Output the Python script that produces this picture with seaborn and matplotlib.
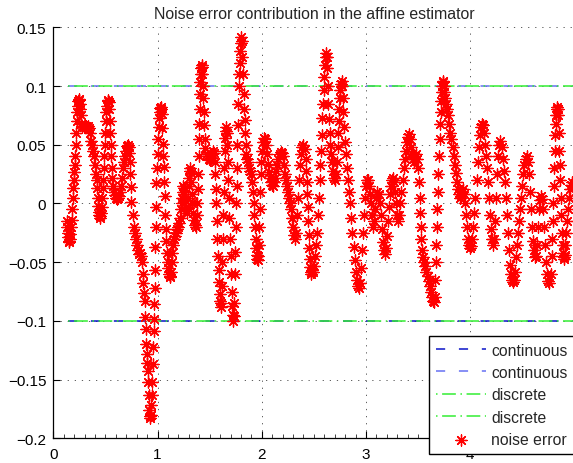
import numpy as np
import pandas as pd
import matplotlib
matplotlib.use("Agg")
import matplotlib.pyplot as plt
import seaborn as sns

# ---------------- data ----------------
title = "Noise error contribution in the affine estimator"
x_ticks = [0, 1, 2, 3, 4]
y_ticks = [-0.2, -0.15, -0.1, -0.05, 0, 0.05, 0.1, 0.15]
y_ticklabels = ["\u22120.2", "\u22120.15", "\u22120.1", "\u22120.05", "0", "0.05", "0.1", "0.15"]

bound_x = [0.14, 5.0]
cont_upper = [0.1, 0.1]
cont_lower = [-0.1, -0.1]
disc_upper = [0.1, 0.1]
disc_lower = [-0.1, -0.1]

legend_labels = ["continuous", "continuous", "discrete", "discrete", "noise error"]

noise_xy = [
    (0.13,-0.015),(0.135,-0.02),(0.14,-0.025),(0.145,-0.029),(0.15,-0.032),(0.155,-0.033),(0.16,-0.03),(0.165,-0.026),(0.17,-0.02),(0.175,-0.014),
    (0.18,-0.005),(0.185,0.005),(0.19,0.013),(0.195,0.02),(0.2,0.027),(0.205,0.033),(0.21,0.04),(0.215,0.05),(0.22,0.06),(0.225,0.07),(0.23,0.078),(0.235,0.083),(0.24,0.087),(0.245,0.089),(0.25,0.088),(0.255,0.085),(0.26,0.08),(0.265,0.075),
    (0.27,0.068),(0.28,0.066),(0.29,0.065),(0.3,0.066),(0.31,0.066),(0.32,0.065),(0.33,0.066),(0.34,0.064),(0.35,0.06),
    (0.36,0.053),(0.37,0.05),(0.38,0.045),(0.39,0.04),(0.4,0.033),(0.41,0.025),(0.415,0.02),(0.42,0.013),(0.425,0.005),(0.43,-0.002),(0.435,-0.007),(0.44,-0.01),(0.445,-0.012),(0.45,-0.011),(0.455,-0.008),
    (0.465,-0.003),(0.47,0.005),(0.475,0.013),(0.48,0.02),(0.485,0.03),(0.49,0.04),(0.495,0.05),(0.5,0.06),(0.505,0.07),(0.51,0.078),(0.515,0.083),(0.52,0.087),(0.525,0.088),(0.53,0.086),(0.535,0.08),
    (0.54,0.07),(0.545,0.06),(0.55,0.05),(0.555,0.04),(0.56,0.03),(0.565,0.022),(0.57,0.015),(0.58,0.01),(0.59,0.007),(0.6,0.005),(0.61,0.004),(0.62,0.005),(0.63,0.006),(0.64,0.01),
    (0.65,0.015),(0.66,0.022),(0.67,0.03),(0.68,0.035),(0.69,0.04),(0.7,0.045),(0.71,0.049),(0.72,0.05),(0.725,0.048),(0.73,0.043),
    (0.735,0.035),(0.74,0.025),(0.745,0.014),(0.75,0.001),(0.76,-0.01),(0.77,-0.02),(0.78,-0.025),(0.79,-0.03),(0.8,-0.035),(0.81,-0.04),(0.82,-0.043),(0.83,-0.042),(0.84,-0.045),
    (0.85,-0.05),(0.86,-0.06),(0.865,-0.068),(0.87,-0.076),(0.875,-0.083),(0.88,-0.097),(0.885,-0.107),(0.89,-0.12),(0.895,-0.128),(0.9,-0.136),(0.905,-0.143),(0.91,-0.152),(0.915,-0.163),(0.92,-0.176),(0.925,-0.181),(0.93,-0.183),(0.935,-0.18),(0.94,-0.172),(0.945,-0.163),
    (0.95,-0.152),(0.955,-0.137),(0.96,-0.122),(0.963,-0.109),(0.966,-0.098),(0.969,-0.086),(0.972,-0.072),(0.975,-0.057),(0.978,-0.037),(0.982,-0.02),(0.986,-0.003),(0.99,0.017),(0.995,0.03),(1.0,0.042),(1.005,0.055),(1.01,0.065),(1.015,0.073),(1.02,0.078),(1.025,0.081),(1.03,0.082),(1.035,0.08),(1.04,0.076),
    (1.045,0.064),(1.05,0.051),(1.055,0.04),(1.06,0.031),(1.065,0.018),(1.07,0.006),(1.075,-0.01),(1.08,-0.022),(1.085,-0.032),(1.09,-0.042),(1.1,-0.05),(1.105,-0.055),(1.11,-0.06),(1.115,-0.063),(1.12,-0.062),(1.125,-0.058),
    (1.135,-0.05),(1.14,-0.042),(1.15,-0.035),(1.16,-0.03),(1.17,-0.028),(1.18,-0.025),(1.19,-0.022),(1.2,-0.02),(1.21,-0.017),(1.22,-0.012),(1.225,-0.005),(1.23,0.0),(1.235,0.005),(1.24,0.01),(1.245,0.015),(1.25,0.013),(1.255,0.008),(1.26,0.003),(1.27,-0.003),(1.28,-0.008),(1.29,-0.004),(1.295,0.005),(1.3,0.015),(1.305,0.022),(1.31,0.028),(1.315,0.03),(1.32,0.026),(1.325,0.018),(1.33,0.008),(1.335,0.0),(1.34,-0.008),(1.35,-0.014),(1.36,-0.018),(1.37,-0.02),
    (1.38,-0.01),(1.383,0.0),(1.386,0.012),(1.39,0.025),(1.393,0.04),(1.396,0.055),(1.4,0.068),(1.403,0.08),(1.406,0.093),(1.41,0.103),(1.414,0.11),(1.418,0.115),(1.422,0.118),(1.426,0.116),(1.43,0.11),(1.435,0.1),
    (1.44,0.09),(1.445,0.078),(1.45,0.067),(1.455,0.055),(1.46,0.047),(1.47,0.042),(1.48,0.04),(1.49,0.038),(1.5,0.037),(1.51,0.039),(1.52,0.042),(1.53,0.045),(1.54,0.043),
    (1.55,0.035),(1.555,0.025),(1.56,0.012),(1.565,0.0),(1.57,-0.015),(1.575,-0.03),(1.58,-0.045),(1.585,-0.057),(1.59,-0.067),(1.595,-0.077),(1.6,-0.083),(1.605,-0.088),(1.61,-0.085),(1.615,-0.07),(1.62,-0.05),(1.625,-0.03),(1.63,-0.01),(1.635,0.01),(1.64,0.03),(1.645,0.045),(1.65,0.056),(1.655,0.062),(1.66,0.065),(1.665,0.06),(1.67,0.05),(1.675,0.035),(1.68,0.02),(1.685,0.005),(1.69,-0.012),(1.695,-0.03),(1.7,-0.045),(1.705,-0.06),(1.71,-0.075),(1.715,-0.087),(1.72,-0.095),(1.725,-0.1),(1.73,-0.096),(1.735,-0.085),
    (1.74,-0.06),(1.745,-0.041),(1.75,-0.02),(1.755,0.0),(1.76,0.015),(1.762,0.03),(1.765,0.05),(1.77,0.067),(1.775,0.085),(1.78,0.1),(1.785,0.11),(1.79,0.12),(1.795,0.13),(1.8,0.137),(1.805,0.142),(1.81,0.138),(1.815,0.125),
    (1.82,0.11),(1.825,0.093),(1.83,0.08),(1.835,0.071),(1.84,0.06),(1.845,0.05),(1.85,0.042),(1.86,0.038),(1.87,0.035),(1.88,0.03),(1.89,0.028),(1.9,0.025),
    (1.91,0.018),(1.92,0.01),(1.925,0.0),(1.93,-0.01),(1.935,-0.02),(1.94,-0.03),(1.945,-0.038),(1.95,-0.044),(1.955,-0.047),(1.96,-0.048),(1.965,-0.045),
    (1.97,-0.035),(1.975,-0.02),(1.98,-0.005),(1.985,0.01),(1.99,0.025),(1.995,0.035),(2.0,0.045),(2.01,0.052),(2.02,0.056),(2.03,0.055),(2.04,0.05),
    (2.05,0.042),(2.06,0.034),(2.07,0.027),(2.08,0.022),(2.09,0.018),(2.1,0.016),(2.11,0.015),(2.12,0.018),(2.13,0.022),
    (2.14,0.028),(2.15,0.033),(2.16,0.038),(2.17,0.042),(2.18,0.044),(2.19,0.043),(2.2,0.04),(2.21,0.033),
    (2.22,0.025),(2.23,0.02),(2.24,0.015),(2.25,0.01),(2.26,0.005),(2.27,0.0),(2.28,-0.005),(2.29,-0.012),(2.3,-0.02),(2.31,-0.027),(2.32,-0.03),(2.33,-0.025),(2.34,-0.01),(2.35,0.005),(2.36,0.02),(2.37,0.033),(2.38,0.042),(2.39,0.048),(2.4,0.05),(2.41,0.046),(2.42,0.038),
    (2.425,0.028),(2.43,0.018),(2.435,0.008),(2.44,-0.003),(2.445,-0.015),(2.45,-0.027),(2.455,-0.038),(2.46,-0.047),(2.465,-0.054),(2.47,-0.058),(2.475,-0.06),(2.48,-0.057),
    (2.49,-0.058),(2.5,-0.053),(2.51,-0.045),(2.52,-0.035),(2.53,-0.025),(2.54,-0.01),(2.55,0.005),(2.555,0.02),(2.56,0.033),(2.57,0.045),(2.575,0.058),(2.58,0.073),(2.59,0.085),(2.595,0.097),(2.6,0.108),(2.61,0.118),(2.615,0.125),(2.62,0.128),(2.625,0.125),(2.63,0.115),(2.635,0.1),
    (2.64,0.085),(2.645,0.072),(2.65,0.06),(2.655,0.05),(2.66,0.042),(2.67,0.035),(2.68,0.028),(2.69,0.022),(2.7,0.02),(2.71,0.025),(2.72,0.035),
    (2.73,0.048),(2.735,0.06),(2.74,0.07),(2.745,0.08),(2.75,0.09),(2.755,0.097),(2.76,0.102),(2.765,0.104),(2.77,0.1),(2.775,0.09),
    (2.78,0.078),(2.79,0.065),(2.8,0.052),(2.81,0.042),(2.82,0.03),(2.83,0.02),(2.84,0.01),(2.85,0.0),(2.86,-0.012),(2.87,-0.025),(2.88,-0.037),(2.89,-0.048),(2.9,-0.058),(2.91,-0.065),(2.92,-0.07),(2.93,-0.072),(2.94,-0.068),
    (2.95,-0.055),(2.96,-0.04),(2.97,-0.025),(2.98,-0.01),(2.99,0.005),(3.0,0.015),(3.01,0.02),(3.02,0.02),(3.03,0.015),
    (3.04,0.008),(3.05,0.0),(3.06,-0.01),(3.07,-0.02),(3.08,-0.015),(3.09,-0.005),(3.1,0.005),(3.11,0.01),(3.12,0.008),(3.13,0.0),(3.14,-0.01),(3.15,-0.022),(3.16,-0.033),(3.17,-0.04),(3.18,-0.043),(3.19,-0.038),(3.2,-0.028),(3.21,-0.015),(3.22,-0.003),(3.23,0.008),(3.24,0.015),(3.25,0.02),(3.26,0.022),(3.27,0.018),(3.28,0.01),(3.29,0.0),(3.3,-0.01),(3.31,-0.015),(3.32,-0.01),
    (3.33,0.0),(3.34,0.01),(3.35,0.02),(3.36,0.03),(3.37,0.038),(3.38,0.045),(3.39,0.052),(3.4,0.057),(3.41,0.059),(3.42,0.055),(3.43,0.048),(3.44,0.042),(3.45,0.038),(3.46,0.035),(3.47,0.04),(3.48,0.042),(3.49,0.038),(3.5,0.03),
    (3.51,0.018),(3.515,0.005),(3.52,-0.008),(3.525,-0.02),(3.53,-0.03),(3.54,-0.04),(3.55,-0.046),(3.56,-0.05),(3.57,-0.053),(3.58,-0.058),(3.59,-0.062),(3.6,-0.066),(3.61,-0.07),(3.62,-0.075),(3.63,-0.08),(3.64,-0.083),(3.65,-0.084),(3.66,-0.08),
    (3.665,-0.065),(3.67,-0.05),(3.675,-0.035),(3.68,-0.02),(3.685,-0.005),(3.69,0.01),(3.695,0.025),(3.7,0.04),(3.705,0.055),(3.71,0.068),(3.715,0.078),(3.72,0.087),(3.725,0.095),(3.73,0.1),(3.735,0.103),(3.74,0.104),(3.745,0.1),(3.75,0.095),
    (3.76,0.09),(3.77,0.085),(3.78,0.08),(3.79,0.075),(3.8,0.068),(3.81,0.06),(3.82,0.055),(3.83,0.048),(3.84,0.04),(3.85,0.033),(3.86,0.026),(3.87,0.018),(3.88,0.012),(3.89,0.008),(3.9,0.005),(3.91,0.006),(3.92,0.01),(3.93,0.012),(3.94,0.008),(3.95,0.0),
    (3.96,-0.01),(3.97,-0.02),(3.98,-0.03),(3.99,-0.035),(4.0,-0.038),(4.01,-0.036),(4.02,-0.03),
    (4.03,-0.02),(4.04,-0.008),(4.05,0.005),(4.06,0.02),(4.07,0.035),(4.08,0.048),(4.09,0.058),(4.1,0.065),(4.11,0.068),(4.12,0.067),(4.13,0.06),
    (4.14,0.05),(4.15,0.04),(4.16,0.03),(4.17,0.018),(4.18,0.005),(4.19,-0.01),(4.2,-0.022),(4.21,-0.03),(4.22,-0.035),(4.23,-0.03),
    (4.24,-0.015),(4.25,0.005),(4.26,0.025),(4.27,0.04),(4.28,0.05),(4.29,0.053),(4.3,0.048),(4.31,0.038),
    (4.32,0.028),(4.33,0.018),(4.34,0.005),(4.35,-0.01),(4.36,-0.025),(4.37,-0.04),(4.38,-0.052),(4.39,-0.06),(4.4,-0.065),(4.41,-0.067),(4.42,-0.065),(4.43,-0.058),
    (4.44,-0.046),(4.45,-0.035),(4.46,-0.025),(4.47,-0.015),(4.48,-0.005),(4.49,0.005),(4.5,0.015),(4.51,0.025),(4.52,0.033),(4.53,0.038),(4.54,0.04),(4.55,0.035),(4.56,0.025),
    (4.57,0.01),(4.58,-0.005),(4.59,-0.02),(4.6,-0.032),(4.61,-0.04),(4.62,-0.046),(4.63,-0.045),(4.64,-0.035),
    (4.65,-0.02),(4.66,-0.005),(4.67,0.003),(4.68,0.006),(4.69,0.004),(4.7,-0.005),(4.71,-0.02),(4.72,-0.035),(4.73,-0.05),(4.74,-0.06),(4.75,-0.066),(4.76,-0.068),(4.77,-0.06),
    (4.78,-0.045),(4.785,-0.03),(4.79,-0.015),(4.795,0.0),(4.8,0.015),(4.805,0.03),(4.81,0.045),(4.815,0.058),(4.82,0.068),(4.825,0.075),(4.83,0.08),(4.835,0.082),(4.84,0.08),(4.845,0.075),
    (4.85,0.06),(4.855,0.045),(4.86,0.033),(4.865,0.02),(4.87,0.005),(4.875,-0.01),(4.88,-0.025),(4.885,-0.035),(4.89,-0.042),(4.895,-0.046),(4.9,-0.047),(4.905,-0.044),
    (4.91,-0.035),(4.92,-0.025),(4.93,-0.015),(4.94,-0.005),(4.95,0.005),(4.96,0.012),(4.97,0.016),(4.98,0.018),
]
noise_x = [p[0] for p in noise_xy]
noise_y = [p[1] for p in noise_xy]

# ---------------- style ----------------
sns.set_theme(style="white")
plt.rcParams["font.family"] = ["Liberation Sans", "DejaVu Sans"]
plt.rcParams["axes.unicode_minus"] = True

W, H, DPI = 573, 464, 100
fig = plt.figure(figsize=(W / DPI, H / DPI), dpi=DPI)
ax = fig.add_axes([53.3 / W, 1 - 439.3 / H, 521.2 / W, 411.0 / H])

dark_blue = "#0a14c8"
light_blue = "#6670f2"
green = "#33ee33"
dash = (0, (6, 9))
dashdot = (0, (1, 3, 9, 3))

sns.lineplot(x=bound_x, y=cont_lower, ax=ax, color=dark_blue, lw=1.1, linestyle=dash, label=legend_labels[0])
sns.lineplot(x=bound_x, y=cont_upper, ax=ax, color=light_blue, lw=1.1, linestyle=dash, label=legend_labels[1])
sns.lineplot(x=bound_x, y=disc_upper, ax=ax, color=green, lw=1.1, linestyle=dashdot, label=legend_labels[2])
sns.lineplot(x=bound_x, y=disc_lower, ax=ax, color=green, lw=1.1, linestyle=dashdot, label=legend_labels[3])

df = pd.DataFrame({"x": noise_x, "y": noise_y})
sns.scatterplot(data=df, x="x", y="y", ax=ax, marker=(8, 2, 0), s=64,
                color="red", edgecolor="red", linewidth=0.95, label=legend_labels[4], zorder=5)

ax.set_xlim(0, 5)
ax.set_ylim(-0.2, 0.15)
ax.set_xticks(x_ticks)
ax.set_xticklabels([str(t) for t in x_ticks])
ax.set_yticks(y_ticks)
ax.set_yticklabels(y_ticklabels)
ax.set_xticks(np.arange(0, 5.0001, 0.1), minor=True)
ax.set_xlabel("")
ax.set_ylabel("")

ax.grid(True, which="major", color="#444444", linestyle=(0, (1.5, 7)), linewidth=0.6)
ax.tick_params(axis="both", which="major", direction="in", length=5, width=0.8,
               labelsize=11, colors="black", pad=5)
ax.tick_params(axis="x", which="minor", direction="in", length=3, width=0.6, bottom=True)
ax.tick_params(axis="x", which="major", bottom=True, pad=6)
ax.tick_params(axis="y", which="major", left=True)

for side in ["top", "right"]:
    ax.spines[side].set_visible(False)
for side in ["left", "bottom"]:
    ax.spines[side].set_color("black")
    ax.spines[side].set_linewidth(0.9)

ax.set_title(title, fontsize=11.4, pad=7)

handles, labels = ax.get_legend_handles_labels()
leg = ax.legend(handles, labels, loc="upper left", bbox_to_anchor=(429 / W, 1 - 337 / H),
                bbox_transform=fig.transFigure, fontsize=11.3, frameon=True, fancybox=False,
                framealpha=1, edgecolor="black", handlelength=3.2, handletextpad=0.35,
                labelspacing=0.47, borderpad=0.42, borderaxespad=0, scatterpoints=1)
leg.get_frame().set_linewidth(1.0)
leg.set_zorder(10)

fig.savefig("out.png", dpi=DPI)
